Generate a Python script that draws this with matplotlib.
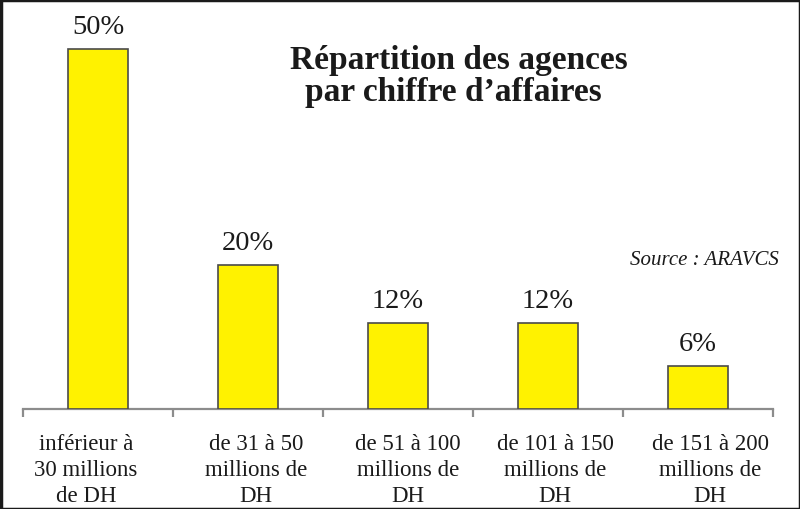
import matplotlib
matplotlib.use("Agg")
import matplotlib.pyplot as plt
from matplotlib.patches import Rectangle
from matplotlib.transforms import ScaledTranslation

categories = ["inférieur à\n30 millions\nde DH",
              "de 31 à 50\nmillions de\nDH",
              "de 51 à 100\nmillions de\nDH",
              "de 101 à 150\nmillions de\nDH",
              "de 151 à 200\nmillions de\nDH"]
values = [50, 20, 12, 12, 6]
value_labels = ["50%", "20%", "12%", "12%", "6%"]
title_lines = ["Répartition des agences", "par chiffre d\u2019affaires"]
source = "Source : ARAVCS"

plt.rcParams['font.family'] = ['Liberation Serif', 'DejaVu Serif']

W, H = 800, 510
fig = plt.figure(figsize=(W/100, H/100), dpi=100)
fig.patch.set_facecolor('white')

ax_left, ax_right = 23, 773
ax_base, ax_top = 410, 10
ax = fig.add_axes([ax_left/W, (H-ax_base)/H, (ax_right-ax_left)/W, (ax_base-ax_top)/H])
ax.set_facecolor('none')
n = len(values)
ax.set_xlim(-0.5, n-0.5)
ax.set_ylim(0, (ax_base-ax_top)/7.2)

ax.bar(range(n), values, width=0.4, color='#FFF200', edgecolor='#4a4a4a', linewidth=1.2, zorder=3)

for i, (v, lab) in enumerate(zip(values, value_labels)):
    ax.annotate(lab, (i, v), xytext=(0, 11.5), textcoords='offset points',
                ha='center', va='baseline', fontsize=20.5, color='#1a1a1a')

for s in ['top', 'right', 'left']:
    ax.spines[s].set_visible(False)
ax.spines['bottom'].set_color('#8c8c8c')
ax.spines['bottom'].set_linewidth(1.6)
ax.set_yticks([])
ax.set_xticks([i - 0.5 for i in range(n + 1)])
ax.set_xticklabels([])
ax.tick_params(axis='x', which='major', length=6, width=1.6, color='#8c8c8c', direction='out')
ax.set_xticks(range(n), minor=True)
ax.set_xticklabels(categories, minor=True, fontsize=16.5, color='#1a1a1a', linespacing=1.3)
ax.tick_params(axis='x', which='minor', length=0, pad=17.5)
# small horizontal shifts of the category labels, as in the reference layout
label_shift_px = [-12, 8, 10, 7, 12]
for lbl, dx in zip(ax.get_xticklabels(minor=True), label_shift_px):
    lbl.set_transform(lbl.get_transform() + ScaledTranslation(dx/100, 0, fig.dpi_scale_trans))

fig.text(459/W, (H-69)/H, title_lines[0], ha='center', va='baseline', fontsize=24, fontweight='bold', color='#1a1a1a')
fig.text(453/W, (H-101)/H, title_lines[1], ha='center', va='baseline', fontsize=24, fontweight='bold', color='#1a1a1a')
fig.text(779/W, (H-265)/H, source, ha='right', va='baseline', fontsize=15, style='italic', color='#1a1a1a')

fig.add_artist(Rectangle((0.5/W, 0.5/H), 1-1/W, 1-1/H, transform=fig.transFigure,
                         fill=False, edgecolor='#1a1a1a', linewidth=2.5))

fig.savefig('out.png', dpi=100)
